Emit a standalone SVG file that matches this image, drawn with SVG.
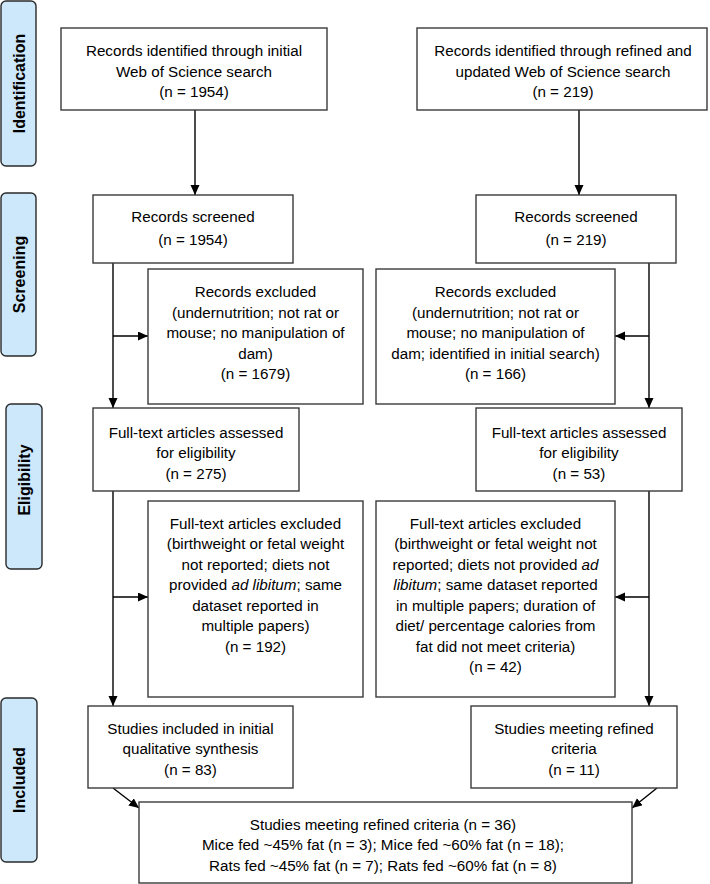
<svg xmlns="http://www.w3.org/2000/svg" width="710" height="884" viewBox="0 0 710 884">
<style>
  .box { fill: #ffffff; stroke: #3a3a3a; stroke-width: 1.4; }
  .lab { fill: #cde8fb; stroke: #2a2a2a; stroke-width: 1.4; }
  .t { font-family: "Liberation Sans", Arial, sans-serif; font-size: 15.2px; fill: #000; text-anchor: middle; }
  .lt { font-family: "Liberation Sans", Arial, sans-serif; font-size: 16px; font-weight: bold; fill: #000; text-anchor: middle; }
  .c { fill: none; stroke: #000; stroke-width: 1.4; }
  .i { font-style: italic; }
</style>
<defs>
  <marker id="ah" markerUnits="userSpaceOnUse" markerWidth="10" markerHeight="10" refX="10" refY="4.5" orient="auto">
    <path d="M0,0 L10,4.5 L0,9 z" fill="#000"/>
  </marker>
</defs>

<g id="stage-identification">
  <rect class="lab" x="1" y="1" width="35" height="165" rx="5"/>
  <text class="lt" transform="translate(24.5,83.5) rotate(-90)">Identification</text>
</g>
<g id="stage-screening">
  <rect class="lab" x="1" y="193" width="35" height="163" rx="5"/>
  <text class="lt" transform="translate(24.5,274.5) rotate(-90)">Screening</text>
</g>
<g id="stage-eligibility">
  <rect class="lab" x="6" y="404" width="36" height="165" rx="5"/>
  <text class="lt" transform="translate(29.5,480) rotate(-90)">Eligibility</text>
</g>
<g id="stage-included">
  <rect class="lab" x="1" y="698" width="36" height="164" rx="5"/>
  <text class="lt" transform="translate(25,780) rotate(-90)">Included</text>
</g>

<g id="connectors">
  <path class="c" d="M195,110 V195" marker-end="url(#ah)"/>
  <path class="c" d="M579,110 V195" marker-end="url(#ah)"/>
  <path class="c" d="M113,263 V408" marker-end="url(#ah)"/>
  <path class="c" d="M113,336 H148" marker-end="url(#ah)"/>
  <path class="c" d="M113,491 V706" marker-end="url(#ah)"/>
  <path class="c" d="M113,597 H148" marker-end="url(#ah)"/>
  <path class="c" d="M649,263 V408" marker-end="url(#ah)"/>
  <path class="c" d="M649,336 H615" marker-end="url(#ah)"/>
  <path class="c" d="M649,491 V706" marker-end="url(#ah)"/>
  <path class="c" d="M649,597 H615" marker-end="url(#ah)"/>
  <path class="c" d="M113,788 L139,808" marker-end="url(#ah)"/>
  <path class="c" d="M657,788 L632,808" marker-end="url(#ah)"/>
</g>

<g id="records-initial">
  <rect class="box" x="61" y="28" width="266" height="82"/>
  <text class="t" x="194" y="56">Records identified through initial</text>
  <text class="t" x="194" y="77">Web of Science search</text>
  <text class="t" x="194" y="97">(n = 1954)</text>
</g>
<g id="records-refined">
  <rect class="box" x="417" y="28" width="290" height="82"/>
  <text class="t" x="563" y="56">Records identified through refined and</text>
  <text class="t" x="563" y="77">updated Web of Science search</text>
  <text class="t" x="563" y="97">(n = 219)</text>
</g>

<g id="screened-left">
  <rect class="box" x="93" y="195" width="200" height="68"/>
  <text class="t" x="193" y="222">Records screened</text>
  <text class="t" x="193" y="244.5">(n = 1954)</text>
</g>
<g id="screened-right">
  <rect class="box" x="476" y="195" width="200" height="68"/>
  <text class="t" x="576" y="222">Records screened</text>
  <text class="t" x="576" y="244.5">(n = 219)</text>
</g>

<g id="excluded-left">
  <rect class="box" x="148" y="269" width="215" height="135"/>
  <text class="t" x="255.5" y="297">Records excluded</text>
  <text class="t" x="255.5" y="318">(undernutrition; not rat or</text>
  <text class="t" x="255.5" y="338">mouse; no manipulation of</text>
  <text class="t" x="255.5" y="358.5">dam)</text>
  <text class="t" x="255.5" y="379">(n = 1679)</text>
</g>
<g id="excluded-right">
  <rect class="box" x="376" y="269" width="239" height="135"/>
  <text class="t" x="495.5" y="297">Records excluded</text>
  <text class="t" x="495.5" y="318">(undernutrition; not rat or</text>
  <text class="t" x="495.5" y="338">mouse; no manipulation of</text>
  <text class="t" x="495.5" y="358.5">dam; identified in initial search)</text>
  <text class="t" x="495.5" y="379">(n = 166)</text>
</g>

<g id="assessed-left">
  <rect class="box" x="93" y="408" width="206" height="83"/>
  <text class="t" x="196" y="437.5">Full-text articles assessed</text>
  <text class="t" x="196" y="458">for eligibility</text>
  <text class="t" x="196" y="478.5">(n = 275)</text>
</g>
<g id="assessed-right">
  <rect class="box" x="476" y="408" width="206" height="83"/>
  <text class="t" x="579" y="437.5">Full-text articles assessed</text>
  <text class="t" x="579" y="458">for eligibility</text>
  <text class="t" x="579" y="478.5">(n = 53)</text>
</g>

<g id="fulltext-excluded-left">
  <rect class="box" x="148" y="501" width="215" height="196"/>
  <text class="t" x="255.5" y="528.5">Full-text articles excluded</text>
  <text class="t" x="255.5" y="549">(birthweight or fetal weight</text>
  <text class="t" x="255.5" y="569.5">not reported; diets not</text>
  <text class="t" x="255.5" y="590">provided <tspan class="i">ad libitum</tspan>; same</text>
  <text class="t" x="255.5" y="610.5">dataset reported in</text>
  <text class="t" x="255.5" y="631">multiple papers)</text>
  <text class="t" x="255.5" y="651.5">(n = 192)</text>
</g>
<g id="fulltext-excluded-right">
  <rect class="box" x="376" y="501" width="239" height="196"/>
  <text class="t" x="495.5" y="528.5">Full-text articles excluded</text>
  <text class="t" x="495.5" y="549">(birthweight or fetal weight not</text>
  <text class="t" x="495.5" y="569.5">reported; diets not provided <tspan class="i">ad</tspan></text>
  <text class="t" x="495.5" y="590"><tspan class="i">libitum</tspan>; same dataset reported</text>
  <text class="t" x="495.5" y="610.5">in multiple papers; duration of</text>
  <text class="t" x="495.5" y="631">diet/ percentage calories from</text>
  <text class="t" x="495.5" y="651.5">fat did not meet criteria)</text>
  <text class="t" x="495.5" y="672">(n = 42)</text>
</g>

<g id="included-left">
  <rect class="box" x="88" y="706" width="205" height="82"/>
  <text class="t" x="190.5" y="733.5">Studies included in initial</text>
  <text class="t" x="190.5" y="754">qualitative synthesis</text>
  <text class="t" x="190.5" y="774.5">(n = 83)</text>
</g>
<g id="included-right">
  <rect class="box" x="471" y="706" width="206" height="82"/>
  <text class="t" x="574" y="733.5">Studies meeting refined</text>
  <text class="t" x="574" y="754">criteria</text>
  <text class="t" x="574" y="774.5">(n = 11)</text>
</g>

<g id="final">
  <rect class="box" x="139" y="802" width="493" height="81"/>
  <text class="t" x="383" y="829.5">Studies meeting refined criteria (n = 36)</text>
  <text class="t" x="383" y="850">Mice fed ~45% fat (n = 3); Mice fed ~60% fat (n = 18);</text>
  <text class="t" x="383" y="870.5">Rats fed ~45% fat (n = 7); Rats fed ~60% fat (n = 8)</text>
</g>
</svg>
